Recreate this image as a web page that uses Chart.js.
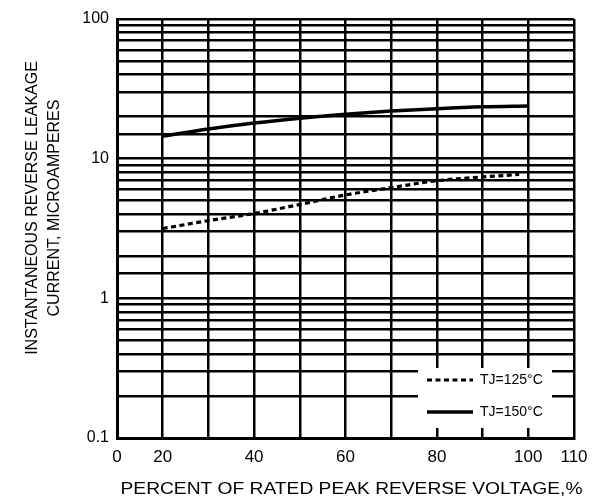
<!DOCTYPE html>
<html>
<head>
<meta charset="utf-8">
<script src="https://cdn.jsdelivr.net/npm/chart.js@4"></script>
<style>
  html, body { margin: 0; padding: 0; background: #fff; }
  #wrap { width: 605px; height: 504px; }
</style>
</head>
<body>
<div id="wrap"><canvas id="c" width="605" height="504"></canvas></div>
<script>
// ---- data ----
const xTickLabels = { 10: "0", 20: "20", 40: "40", 60: "60", 80: "80", 100: "100", 110: "110" };
const yTickLabels = [0.1, 1, 10, 100];

const x150 = [20, 30, 40, 50, 60, 70, 80, 90, 100];
const tj150 = [14.5, 16.3, 18.0, 19.5, 20.8, 21.9, 22.8, 23.5, 23.8];

const x125 = [20, 30, 40, 50, 60, 70, 80, 90, 98];
const tj125 = [3.16, 3.6, 4.05, 4.7, 5.5, 6.2, 6.95, 7.4, 7.7];

const seriesLabels = ["TJ=125°C", "TJ=150°C"];
const xTitle = "PERCENT OF RATED PEAK REVERSE VOLTAGE,%";
const yTitle = ["INSTANTANEOUS REVERSE LEAKAGE", "CURRENT, MICROAMPERES"];

const FONT = "'Liberation Sans', Arial, sans-serif";

const toPts = (xs, ys) => xs.map((x, i) => ({ x: x, y: ys[i] }));

const titlesPlugin = {
  id: 'titles',
  afterDraw(chart) {
    const ctx = chart.ctx;
    const a = chart.chartArea;
    ctx.save();
    ctx.fillStyle = '#000';
    ctx.textAlign = 'center';
    ctx.textBaseline = 'middle';
    ctx.font = "16px " + FONT;
    ctx.save();
    ctx.translate((a.left + a.right) / 2 + 6, 490);
    ctx.scale(1.2, 1);
    ctx.fillText(xTitle, 0, 0);
    ctx.restore();
    ctx.font = "16px " + FONT;
    const cy = 208;
    const xs = [33, 55];
    yTitle.forEach((t, i) => {
      ctx.save();
      ctx.translate(xs[i], cy);
      ctx.rotate(-Math.PI / 2);
      ctx.fillText(t, 0, 0);
      ctx.restore();
    });
    ctx.restore();
  }
};

const legendPlugin = {
  id: 'boxLegend',
  afterDatasetsDraw(chart) {
    const ctx = chart.ctx;
    ctx.save();
    ctx.fillStyle = '#fff';
    ctx.fillRect(418, 368, 134, 60);
    const rows = [380, 412];
    chart.data.datasets.forEach((ds, i) => {
      const y = rows[i];
      ctx.strokeStyle = ds.borderColor;
      ctx.lineWidth = ds.borderWidth;
      ctx.setLineDash(ds.borderDash || []);
      ctx.beginPath();
      ctx.moveTo(427, y);
      ctx.lineTo(473, y);
      ctx.stroke();
      ctx.setLineDash([]);
      ctx.fillStyle = '#000';
      ctx.font = "14px " + FONT;
      ctx.textAlign = 'left';
      ctx.textBaseline = 'middle';
      ctx.fillText(ds.label, 480, y);
    });
    ctx.restore();
  }
};

new Chart(document.getElementById('c'), {
  type: 'line',
  data: {
    datasets: [
      {
        label: seriesLabels[0],
        data: toPts(x125, tj125),
        borderColor: '#000',
        borderWidth: 3.2,
        borderDash: [5, 3.5],
        pointRadius: 0,
        fill: false,
        cubicInterpolationMode: 'monotone'
      },
      {
        label: seriesLabels[1],
        data: toPts(x150, tj150),
        borderColor: '#000',
        borderWidth: 3.5,
        pointRadius: 0,
        fill: false,
        cubicInterpolationMode: 'monotone'
      }
    ]
  },
  options: {
    responsive: false,
    animation: false,
    devicePixelRatio: 1,
    layout: { padding: { left: 0, right: 31, top: 19, bottom: 0 } },
    plugins: {
      legend: { display: false },
      tooltip: { enabled: false }
    },
    scales: {
      x: {
        type: 'linear',
        min: 10,
        max: 110,
        afterFit(s) { s.height = 66; },
        ticks: {
          stepSize: 10,
          autoSkip: false,
          maxRotation: 0,
          padding: 9,
          color: '#000',
          font: { size: 17, family: FONT },
          callback: (v) => (xTickLabels[v] !== undefined ? xTickLabels[v] : '')
        },
        grid: { color: '#000', lineWidth: 2.5, drawTicks: false },
        border: { display: true, color: '#000', width: 3 }
      },
      y: {
        type: 'logarithmic',
        min: 0.1,
        max: 100,
        afterFit(s) { s.width = 117; },
        ticks: {
          autoSkip: false,
          padding: 8,
          color: '#000',
          font: { size: 16, family: FONT },
          callback: (v) => {
            const m = yTickLabels.find(t => Math.abs(t - v) < t * 1e-6);
            return m !== undefined ? String(m) : '';
          }
        },
        grid: { color: '#000', lineWidth: 2.5, drawTicks: false },
        border: { display: true, color: '#000', width: 3 }
      }
    }
  },
  plugins: [legendPlugin, titlesPlugin]
});
</script>
</body>
</html>
